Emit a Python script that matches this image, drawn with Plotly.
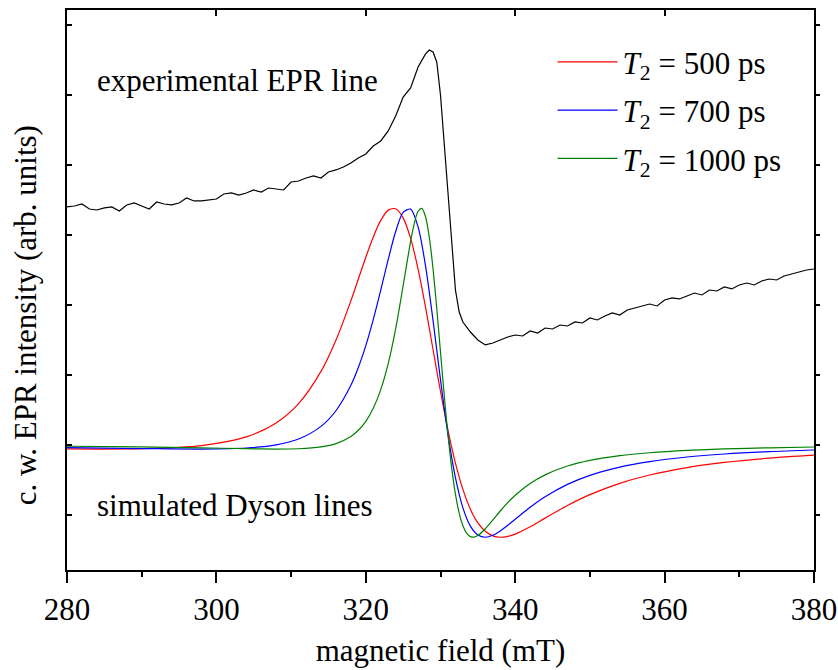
import plotly.graph_objects as go

# ---------------- data ----------------
field_sim = [280, 290, 298, 304, 308, 311, 314, 316, 318, 319, 320, 321, 322, 323, 324,
             325, 326, 327, 328, 329, 330, 331, 332, 333, 334, 335, 336, 337, 338, 339,
             340, 342, 344, 347, 350, 354, 358, 363, 368, 374, 380]

dyson_500 = [0.943, 0.947, 0.992, 1.115, 1.314, 1.590, 2.051, 2.497, 3.059, 3.371, 3.682,
             3.972, 4.208, 4.355, 4.375, 4.244, 3.951, 3.512, 2.966, 2.364, 1.764, 1.213,
             0.741, 0.365, 0.083, -0.112, -0.233, -0.298, -0.318, -0.306, -0.273, -0.169,
             -0.045, 0.136, 0.291, 0.452, 0.571, 0.677, 0.751, 0.812, 0.854]

dyson_700 = [0.962, 0.949, 0.942, 0.957, 1.002, 1.085, 1.266, 1.489, 1.852, 2.107, 2.419,
             2.790, 3.211, 3.650, 4.050, 4.323, 4.369, 4.115, 3.556, 2.780, 1.931, 1.152,
             0.532, 0.101, -0.159, -0.285, -0.318, -0.290, -0.228, -0.148, -0.061, 0.110,
             0.260, 0.437, 0.566, 0.684, 0.763, 0.828, 0.871, 0.905, 0.928]

field_sim_1000 = [280, 290, 298, 304, 308, 311, 314, 316, 318, 319, 320, 321, 322, 323,
                  324, 325, 326, 326.5, 327, 327.5, 328, 328.5, 329, 329.5, 330, 330.5,
                  331, 331.5, 332, 332.5, 333, 333.5, 334, 334.5, 335, 336, 337, 338, 339,
                  340, 342, 344, 347, 350, 354, 358, 363, 368, 374, 380]

dyson_1000 = [0.982, 0.972, 0.959, 0.947, 0.942, 0.946, 0.972, 1.019, 1.122, 1.210, 1.338,
              1.524, 1.790, 2.162, 2.662, 3.276, 3.909, 4.169, 4.339, 4.380, 4.261, 3.968,
              3.517, 2.950, 2.326, 1.707, 1.144, 0.669, 0.298, 0.028, -0.153, -0.260,
              -0.309, -0.316, -0.294, -0.197, -0.072, 0.057, 0.176, 0.281, 0.450, 0.573,
              0.699, 0.779, 0.847, 0.889, 0.923, 0.944, 0.960, 0.971]

field_exp = [280, 281, 282, 283, 284, 285, 286, 287, 288, 289, 290, 291, 292, 293, 294,
             295, 296, 297, 298, 299, 300, 301, 302, 303, 304, 305, 306, 307, 308, 309,
             310, 311, 312, 313, 314, 315, 316, 317, 318, 319, 320, 321, 322, 323, 324,
             325, 326, 327, 328, 328.5, 329, 329.5, 330, 330.5, 331, 331.5, 332, 332.5,
             333, 334, 335, 336, 337, 338, 339, 340, 341, 342, 343, 344, 345, 346, 347,
             348, 349, 350, 351, 352, 353, 354, 355, 356, 357, 358, 359, 360, 361, 362,
             363, 364, 365, 366, 367, 368, 369, 370, 371, 372, 373, 374, 375, 376, 377,
             378, 379, 380]

epr_exp = [4.400, 4.414, 4.443, 4.371, 4.357, 4.386, 4.400, 4.343, 4.429, 4.457, 4.414,
           4.371, 4.471, 4.443, 4.429, 4.457, 4.529, 4.486, 4.486, 4.500, 4.514, 4.586,
           4.600, 4.571, 4.600, 4.643, 4.614, 4.671, 4.657, 4.643, 4.757, 4.771, 4.814,
           4.843, 4.814, 4.900, 4.929, 4.971, 5.029, 5.100, 5.157, 5.271, 5.343, 5.486,
           5.700, 5.971, 6.100, 6.400, 6.586, 6.643, 6.614, 6.471, 6.000, 5.286, 4.500,
           3.786, 3.214, 2.900, 2.757, 2.614, 2.500, 2.429, 2.457, 2.500, 2.543, 2.571,
           2.557, 2.629, 2.600, 2.671, 2.657, 2.714, 2.700, 2.757, 2.743, 2.814, 2.786,
           2.843, 2.886, 2.857, 2.929, 2.957, 2.986, 3.014, 2.986, 3.071, 3.100, 3.086,
           3.129, 3.171, 3.143, 3.214, 3.200, 3.257, 3.229, 3.286, 3.314, 3.286, 3.343,
           3.371, 3.357, 3.414, 3.443, 3.471, 3.500, 3.514]

series_names = ["<i>T</i><sub>2</sub> = 500 ps",
                "<i>T</i><sub>2</sub> = 700 ps",
                "<i>T</i><sub>2</sub> = 1000 ps"]
series_colors = ["#ff0000", "#0000ff", "#008000"]

x_range = [280, 380]
y_range = [-0.786, 7.214]

FONT = "Liberation Serif"
FS = 31

# ---------------- figure ----------------
fig = go.Figure()

# experimental line drawn on the mirrored (top/right) axes, which share the same ranges
fig.add_trace(go.Scatter(x=field_exp, y=epr_exp, mode="lines", xaxis="x2", yaxis="y2",
                         line=dict(color="black", width=1.2), showlegend=False,
                         hoverinfo="skip"))

sim_fields = [field_sim, field_sim, field_sim_1000]
sim_values = [dyson_500, dyson_700, dyson_1000]
for i, (fx, vals, name, col) in enumerate(zip(sim_fields, sim_values,
                                               series_names, series_colors)):
    fig.add_trace(go.Scatter(x=fx, y=vals, mode="lines", name=name,
                             legendgroup=f"g{i}",
                             line=dict(color=col, width=1.2, shape="spline", smoothing=0.8)))

fig.update_layout(
    template="none",
    width=838, height=670,
    margin=dict(l=67, r=24, t=10, b=100, autoexpand=False),
    paper_bgcolor="white", plot_bgcolor="white",
    font=dict(family=FONT, size=FS, color="black"),
    showlegend=True,
    legend=dict(x=0.65, y=0.955, xanchor="left", yanchor="top",
                bgcolor="rgba(0,0,0,0)", borderwidth=0,
                font=dict(family=FONT, size=FS, color="black"),
                tracegroupgap=5, itemwidth=60),
    xaxis=dict(range=x_range, dtick=20, tick0=280, ticks="outside", ticklen=11,
               tickwidth=1.5, tickcolor="black", showline=True, linecolor="black",
               linewidth=2, mirror=True, showgrid=False, zeroline=False, automargin=False,
               tickfont=dict(family=FONT, size=FS, color="black"),
               minor=dict(dtick=10, ticks="outside", ticklen=5, tickwidth=1.5,
                          tickcolor="black", showgrid=False),
               title=dict(text="magnetic field (mT)",
                          font=dict(family=FONT, size=FS, color="black"), standoff=13)),
    xaxis2=dict(range=x_range, overlaying="x", side="top", anchor="y", dtick=20, tick0=280,
                ticks="inside", ticklen=6, tickwidth=1.5, tickcolor="black",
                showticklabels=False, showline=False, showgrid=False, zeroline=False,
                automargin=False),
    yaxis=dict(range=y_range, dtick=1, tick0=0, ticks="inside", ticklen=5, tickwidth=1.5,
               tickcolor="black", showticklabels=False, showline=True, linecolor="black",
               linewidth=2, mirror=True, showgrid=False, zeroline=False, automargin=False),
    yaxis2=dict(range=y_range, overlaying="y", side="right", anchor="x", dtick=1, tick0=0,
                ticks="outside", ticklen=5, tickwidth=1.5, tickcolor="black",
                showticklabels=False, showline=False, showgrid=False, zeroline=False,
                automargin=False),
)

# y-axis title (placed as rotated text to match its off-centre position)
fig.add_annotation(text="c. w. EPR intensity (arb. units)", xref="paper", yref="paper",
                   x=-0.056, y=0.455, xanchor="center", yanchor="middle", textangle=-90,
                   showarrow=False, font=dict(family=FONT, size=FS, color="black"))

fig.add_annotation(text="experimental EPR line", xref="paper", yref="paper",
                   x=0.037, y=0.875, xanchor="left", yanchor="middle", showarrow=False,
                   font=dict(family=FONT, size=FS, color="black"))
fig.add_annotation(text="simulated Dyson lines", xref="paper", yref="paper",
                   x=0.037, y=0.116, xanchor="left", yanchor="middle", showarrow=False,
                   font=dict(family=FONT, size=FS, color="black"))

fig.write_html("out.html")
